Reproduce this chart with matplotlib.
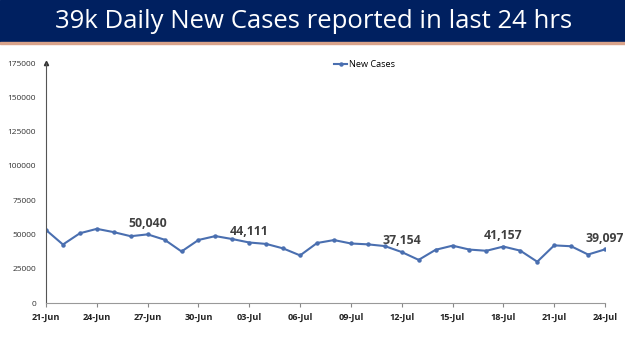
import matplotlib
matplotlib.use('Agg')
import matplotlib.pyplot as plt
import matplotlib.patches as mpatches

# data
dates = ['21-Jun', '22-Jun', '23-Jun', '24-Jun', '25-Jun', '26-Jun', '27-Jun', '28-Jun',
         '29-Jun', '30-Jun', '01-Jul', '02-Jul', '03-Jul', '04-Jul', '05-Jul', '06-Jul',
         '07-Jul', '08-Jul', '09-Jul', '10-Jul', '11-Jul', '12-Jul', '13-Jul', '14-Jul',
         '15-Jul', '16-Jul', '17-Jul', '18-Jul', '19-Jul', '20-Jul', '21-Jul', '22-Jul',
         '23-Jul', '24-Jul']
new_cases = [53256, 42640, 50848, 54069, 51667, 48698, 50040, 46148,
             37566, 45951, 48786, 46617, 44111, 43071, 39796, 34703,
             43733, 45892, 43393, 42766, 41506, 37154, 31443, 38792,
             41806, 38949, 38079, 41157, 38164, 30093, 42015, 41383,
             35342, 39097]
labelled = ['27-Jun', '03-Jul', '12-Jul', '18-Jul', '24-Jul']
title = '39k Daily New Cases reported in last 24 hrs'

plt.rcParams['font.family'] = ['Open Sans', 'DejaVu Sans']

fig = plt.figure(figsize=(6.25, 3.51), dpi=100)
fig.patch.set_facecolor('white')

# title banner
fig.patches.append(mpatches.Rectangle((0, 1 - 42/351), 1, 42/351, transform=fig.transFigure,
                                      color='#002060', zorder=0))
fig.patches.append(mpatches.Rectangle((0, 1 - 44/351), 1, 2/351, transform=fig.transFigure,
                                      color='#d9a38a', zorder=0))
fig.text(0.502, 1 - 21/351, title, color='white', fontsize=18.5, ha='center', va='center')

ax = fig.add_axes([46/625, 1 - 303/351, 559/625, 240/351])
x = list(range(len(dates)))
ax.plot(x, new_cases, color='#4a6fb0', lw=1.5, marker='o', ms=2.2, label='New Cases')

for d in labelled:
    i = dates.index(d)
    ax.annotate(f'{new_cases[i]:,}', (i, new_cases[i]), xytext=(0, 3.5), textcoords='offset points',
                ha='center', va='bottom', fontsize=8.8, fontweight='bold', color='#404040')

ax.set_xlim(0, len(dates) - 1)
ax.set_ylim(0, 175000)
ax.set_xticks(x[::3])
ax.set_xticklabels(dates[::3], fontsize=6.6, fontweight='bold', color='#222222')
ax.set_yticks(range(0, 175001, 25000))
ax.set_yticklabels([str(v) for v in range(0, 175001, 25000)], fontsize=6, color='#333333')
ax.tick_params(axis='y', length=0, pad=7)
ax.tick_params(axis='x', length=3, color='#888888', pad=4)
for s in ['top', 'right']:
    ax.spines[s].set_visible(False)
ax.spines['left'].set_color('#555555')
ax.spines['bottom'].set_color('#999999')
ax.plot(0, 1, marker='^', ms=3, color='#333333', transform=ax.transAxes, clip_on=False)

ax.legend(loc='upper center', bbox_to_anchor=(0.57, 1.045), frameon=False, fontsize=6.6,
          handlelength=1.4, handletextpad=0.2, markerscale=1)

fig.savefig('out.png', dpi=100)
